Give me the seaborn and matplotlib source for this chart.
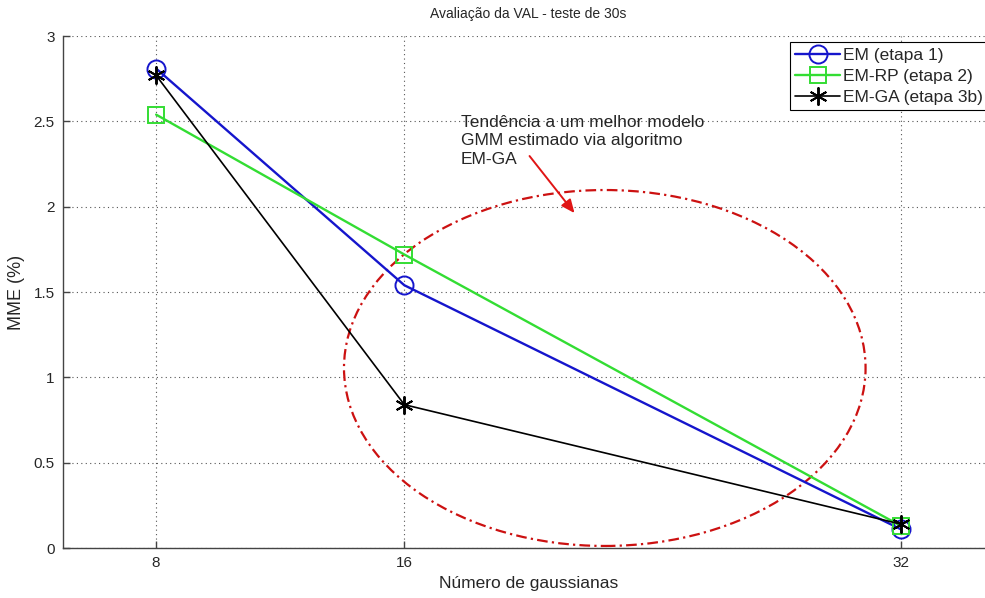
import matplotlib
matplotlib.use("Agg")
import matplotlib.pyplot as plt
from matplotlib.patches import Ellipse
from matplotlib.lines import Line2D
import seaborn as sns
import pandas as pd

# Number of Gaussians per model and the MME (%) obtained by each training stage
gaussianas = [8, 16, 32]
em_etapa1 = [2.81, 1.54, 0.11]
em_rp_etapa2 = [2.54, 1.72, 0.13]
em_ga_etapa3b = [2.77, 0.84, 0.14]

series_labels = ["EM (etapa 1)", "EM-RP (etapa 2)", "EM-GA (etapa 3b)"]
y_ticks = [0, 0.5, 1, 1.5, 2, 2.5, 3]

sns.set_style("white")
plt.rcParams["font.family"] = ["Liberation Sans", "DejaVu Sans"]

fig = plt.figure(figsize=(9.85, 5.98), dpi=100)
ax = fig.add_axes([0.064, 0.0836, 0.945, 0.856])

df = pd.DataFrame({
    "n": gaussianas * 3,
    "mme": em_etapa1 + em_rp_etapa2 + em_ga_etapa3b,
    "serie": [series_labels[0]] * 3 + [series_labels[1]] * 3 + [series_labels[2]] * 3,
})

asterisk = (6, 2, 0)
styles = {
    series_labels[0]: dict(color="#1515cc", marker="o", ms=13, lw=1.7),
    series_labels[1]: dict(color="#33dd33", marker="s", ms=11, lw=1.7),
    series_labels[2]: dict(color="black", marker=asterisk, ms=13, lw=1.2),
}

handles = []
for lab in series_labels:
    st = styles[lab]
    sub = df[df["serie"] == lab]
    sns.lineplot(data=sub, x="n", y="mme", ax=ax, color=st["color"], lw=st["lw"],
                 marker=st["marker"], markersize=st["ms"], markerfacecolor="none",
                 markeredgecolor=st["color"], markeredgewidth=1.4, legend=False)
    handles.append(Line2D([0], [0], color=st["color"], lw=st["lw"], marker=st["marker"],
                          markersize=st["ms"], markerfacecolor="none",
                          markeredgecolor=st["color"], markeredgewidth=1.4))

ax.set_xlim(5, 35)
ax.set_ylim(0, 3)
ax.set_xticks(gaussianas)
ax.set_xticklabels([str(g) for g in gaussianas])
ax.set_yticks(y_ticks)
ax.set_yticklabels(["0", "0.5", "1", "1.5", "2", "2.5", "3"])

ax.grid(True, linestyle=(0, (1, 3)), color="#555555", lw=0.8)
for side in ["top", "right"]:
    ax.spines[side].set_visible(False)
for side in ["left", "bottom"]:
    ax.spines[side].set_color("#444444")
    ax.spines[side].set_linewidth(1.0)
ax.tick_params(direction="in", length=5, width=1, color="#444444",
               labelsize=11, pad=6, bottom=True, left=True)

ax.set_title("Avaliação da VAL - teste de 30s", fontsize=10, pad=13)
ax.set_xlabel("Número de gaussianas", fontsize=12.5, labelpad=4)
ax.set_ylabel("MME (%)", fontsize=13, labelpad=6)

# Region highlighting the trend toward the EM-GA model
ell = Ellipse((22.46, 1.055), 16.81, 2.086, fill=False, edgecolor="#cc1111",
              lw=1.6, linestyle=(0, (4.8, 1.9, 1, 1.9)), zorder=1)
ax.add_patch(ell)

ax.text(17.81, 2.54, "Tendência a um melhor modelo\nGMM estimado via algoritmo\nEM-GA",
        fontsize=12.5, va="top", ha="left", linespacing=1.3)
ax.annotate("", xy=(21.54, 1.95), xytext=(19.98, 2.31),
            arrowprops=dict(arrowstyle="-|>,head_length=0.8,head_width=0.35",
                            color="#e01515", lw=1.4))

leg = ax.legend(handles, series_labels, loc="upper left", bbox_to_anchor=(0.781, 0.988),
                fontsize=12.5, frameon=True, fancybox=False, edgecolor="black",
                framealpha=1, handlelength=2.6, borderpad=0.3, labelspacing=0.35,
                handletextpad=0.15, borderaxespad=0)
leg.get_frame().set_linewidth(0.8)

fig.savefig("out.png", dpi=100, facecolor="white")
